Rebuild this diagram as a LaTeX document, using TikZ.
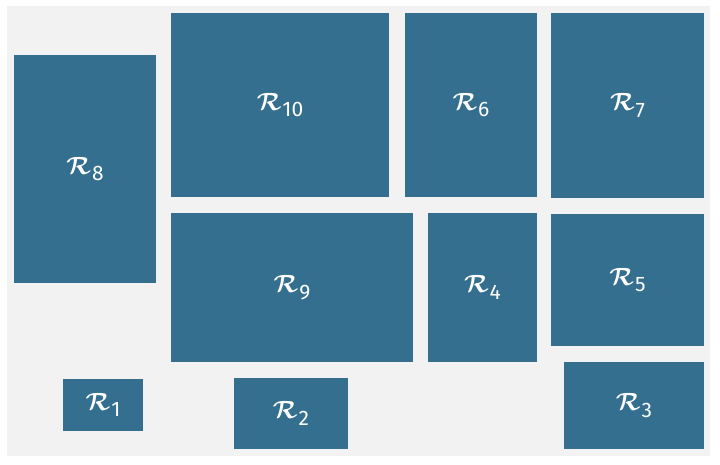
\documentclass[tikz,border=0pt]{standalone}
\usepackage{xcolor}
\usepackage{fontspec}
\setsansfont{Fira Sans}
\usepackage{tikz}
\usetikzlibrary{positioning}

\definecolor{tileblue}{RGB}{53,111,143}
\definecolor{panelgrey}{RGB}{242,242,242}

\newcommand{\reglabel}[1]{{\boldmath$\mathcal{R}$}\kern1pt\raisebox{-0.22em}{\fontsize{21}{24}\sffamily #1}}

\begin{document}
\begin{tikzpicture}[
    x=1pt, y=-1pt,
    region/.style={rectangle, fill=tileblue, draw=none, inner sep=0pt, text=white, font=\fontsize{31}{34}\selectfont},
]

% Canvas and panel
\useasboundingbox[fill=white] (0,0) rectangle (720,464);
\fill[panelgrey] (7,6) rectangle (710,456);

% Left column
\node[region, minimum width=142pt, minimum height=228pt] (r8) at (85,169) {\reglabel{8}};
\node[region, minimum width=80pt, minimum height=52pt] (r1) at (103,405) {\reglabel{1}};

% Top row
\node[region, minimum width=218pt, minimum height=184pt] (r10) at (280,105) {\reglabel{10}};
\node[region, minimum width=132pt, minimum height=184pt] (r6) at (471,105) {\reglabel{6}};
\node[region, minimum width=153pt, minimum height=185pt] (r7) at (627.5,105.5) {\reglabel{7}};

% Middle row
\node[region, minimum width=242pt, minimum height=149pt] (r9) at (292,287.5) {\reglabel{9}};
\node[region, minimum width=109pt, minimum height=149pt] (r4) at (482.5,287.5) {\reglabel{4}};
\node[region, minimum width=153pt, minimum height=132pt] (r5) at (627.5,280) {\reglabel{5}};

% Bottom row
\node[region, minimum width=114pt, minimum height=71pt] (r2) at (291,413.5) {\reglabel{2}};
\node[region, minimum width=140pt, minimum height=87pt] (r3) at (634,405.5) {\reglabel{3}};

\end{tikzpicture}
\end{document}
